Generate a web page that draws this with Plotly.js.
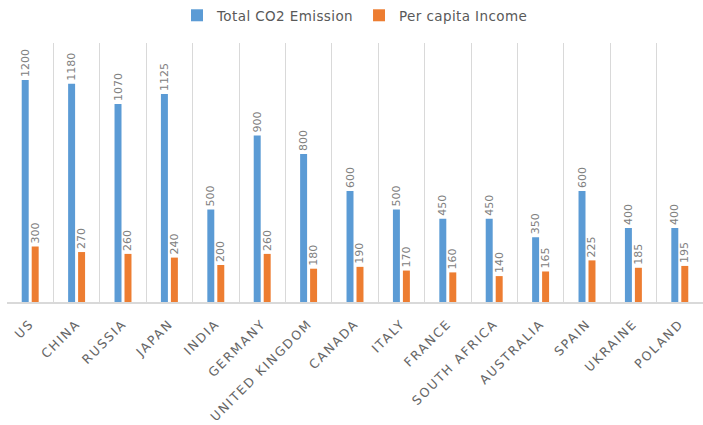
<!DOCTYPE html>
<html><head><meta charset="utf-8">
<script src="https://cdn.plot.ly/plotly-3.0.1.min.js"></script>
<style>
html,body{margin:0;padding:0;background:#fff}
.xtick text{letter-spacing:1.8px}
.legendtext{letter-spacing:0.4px}
</style>
</head><body>
<div id="chart" style="width:703px;height:425px"></div>
<script>
const categories = ["US","CHINA","RUSSIA","JAPAN","INDIA","GERMANY","UNITED KINGDOM","CANADA","ITALY","FRANCE","SOUTH AFRICA","AUSTRALIA","SPAIN","UKRAINE","POLAND"];
const co2Emission = [1200,1180,1070,1125,500,900,800,600,500,450,450,350,600,400,400];
const perCapitaIncome = [300,270,260,240,200,260,180,190,170,160,140,165,225,185,195];

const labelFont = {family:"DejaVu Sans", size:11, color:"#808080"};
const traces = [
  {type:"bar", name:"Total CO2 Emission", x:categories, y:co2Emission,
   marker:{color:"#5B9BD5"}, text:co2Emission.map(String), textposition:"outside",
   textangle:-90, textfont:labelFont, cliponaxis:false, hoverinfo:"x+y"},
  {type:"bar", name:"Per capita Income", x:categories, y:perCapitaIncome,
   marker:{color:"#ED7D31"}, text:perCapitaIncome.map(String), textposition:"outside",
   textangle:-90, textfont:labelFont, cliponaxis:false, hoverinfo:"x+y"}
];
const layout = {
  width:703, height:425,
  margin:{l:7, r:0, t:43, b:123},
  paper_bgcolor:"#fff", plot_bgcolor:"#fff",
  font:{family:"DejaVu Sans", color:"#595959"},
  barmode:"group", bargap:0.57, bargroupgap:0.3,
  uniformtext:{minsize:11, mode:"show"},
  showlegend:true,
  legend:{orientation:"h", x:0.5, xanchor:"center", y:1.108, yanchor:"middle",
          font:{size:13.5, color:"#595959"}, itemwidth:30, traceorder:"normal"},
  xaxis:{type:"category", tickangle:-45, tickson:"boundaries", showgrid:true,
         gridcolor:"#d9d9d9", gridwidth:1, showline:true, linecolor:"#d9d9d9", linewidth:1.5,
         ticks:"", ticklabelstandoff:8, tickfont:{size:12.5, color:"#666666"}, fixedrange:true},
  yaxis:{range:[0,1400], visible:true, showgrid:false, showticklabels:false, zeroline:false,
         showline:false, ticks:"", fixedrange:true}
};
Plotly.newPlot("chart", traces, layout, {displayModeBar:false, staticPlot:true});
</script>
</body></html>
